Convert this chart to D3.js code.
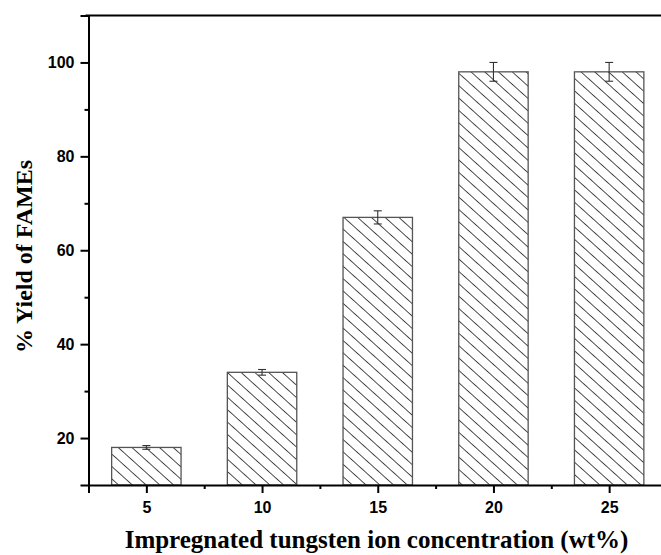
<!DOCTYPE html>
<html>
<head>
<meta charset="utf-8">
<script src="https://cdn.jsdelivr.net/npm/d3@7"></script>
<style>
  html, body { margin: 0; padding: 0; background: #fff; }
  svg { display: block; }
</style>
</head>
<body>
<svg id="chart" width="661" height="555"></svg>
<script>
// Tungsten loading (wt%) vs. FAME yield
const concentrations = [5, 10, 15, 20, 25];
const yields = [18, 34, 67, 98, 98];
const yieldErrors = [0.4, 0.6, 1.4, 2, 2];
const yTicks = [20, 40, 60, 80, 100];
const yMinorTicks = [30, 50, 70, 90];
const xMinorTicks = [2.5, 7.5, 12.5, 17.5, 22.5, 27.5];

const svg = d3.select("#chart");
const plotLeft = 88.5, plotRight = 667, plotTop = 15.5, plotBottom = 485;

const x = d3.scaleLinear().domain([2.5, 27.5]).range([plotLeft, plotRight]);
const y = d3.scaleLinear().domain([10, 110]).range([plotBottom, plotTop]);
const barWidth = x(2.5 + 3) - x(2.5);

// Diagonal hatch fill
const defs = svg.append("defs");
const pat = defs.append("pattern")
  .attr("id", "hatch")
  .attr("patternUnits", "userSpaceOnUse")
  .attr("width", 20)
  .attr("height", 9.2)
  .attr("patternTransform", "rotate(42)");
pat.append("line")
  .attr("x1", -2).attr("x2", 22)
  .attr("y1", 4.6).attr("y2", 4.6)
  .attr("stroke", "#000")
  .attr("stroke-width", 0.75)
  .attr("shape-rendering", "crispEdges");

// Bars
svg.append("g").selectAll("rect")
  .data(concentrations)
  .join("rect")
  .attr("x", (d) => x(d) - barWidth / 2)
  .attr("y", (d, i) => y(yields[i]))
  .attr("width", barWidth)
  .attr("height", (d, i) => y(10) - y(yields[i]))
  .attr("fill", "url(#hatch)")
  .attr("stroke", "#555")
  .attr("stroke-width", 1.3);

// Error bars
const eb = svg.append("g").attr("stroke", "#333").attr("stroke-width", 1.1);
concentrations.forEach((c, i) => {
  const cx = x(c);
  const y1 = y(yields[i] + yieldErrors[i]);
  const y2 = y(yields[i] - yieldErrors[i]);
  eb.append("line").attr("x1", cx).attr("x2", cx).attr("y1", y1).attr("y2", y2);
  eb.append("line").attr("x1", cx - 4).attr("x2", cx + 4).attr("y1", y1).attr("y2", y1);
  eb.append("line").attr("x1", cx - 4).attr("x2", cx + 4).attr("y1", y2).attr("y2", y2);
});

// Y axis
svg.append("g")
  .attr("transform", `translate(${plotLeft},0)`)
  .call(d3.axisLeft(y).tickValues(yTicks).tickSize(8).tickPadding(6).tickFormat(d3.format("d")));
svg.append("g")
  .attr("transform", `translate(${plotLeft},0)`)
  .call(d3.axisLeft(y).tickValues(yMinorTicks).tickSize(4).tickFormat(""))
  .call((g) => g.select(".domain").remove());

// X axis
svg.append("g")
  .attr("transform", `translate(0,${plotBottom})`)
  .call(d3.axisBottom(x).tickValues(concentrations).tickSize(8).tickPadding(9).tickFormat(d3.format("d")));
svg.append("g")
  .attr("transform", `translate(0,${plotBottom})`)
  .call(d3.axisBottom(x).tickValues(xMinorTicks).tickSize(4).tickFormat(""))
  .call((g) => g.select(".domain").remove());

svg.selectAll(".domain").attr("stroke", "#000").attr("stroke-width", 2);
svg.selectAll(".tick line").attr("stroke", "#000").attr("stroke-width", 2);
svg.selectAll(".tick text")
  .attr("fill", "#000")
  .style("font-family", "'Liberation Sans', Arial, sans-serif")
  .style("font-weight", "bold")
  .style("font-size", "16px");

// Frame line along the top
svg.append("line")
  .attr("x1", plotLeft - 3).attr("x2", 661)
  .attr("y1", plotTop).attr("y2", plotTop)
  .attr("stroke", "#000").attr("stroke-width", 2);

// Axis titles
svg.append("text")
  .attr("x", 376.5).attr("y", 548)
  .attr("text-anchor", "middle")
  .style("font-family", "'Liberation Serif', 'Times New Roman', serif")
  .style("font-weight", "bold")
  .style("font-size", "25px")
  .text("Impregnated tungsten ion concentration (wt%)");

svg.append("text")
  .attr("transform", "translate(32,256.5) rotate(-90)")
  .attr("text-anchor", "middle")
  .style("font-family", "'Liberation Serif', 'Times New Roman', serif")
  .style("font-weight", "bold")
  .style("font-size", "24px")
  .text("% Yield of FAMEs");
</script>
</body>
</html>
